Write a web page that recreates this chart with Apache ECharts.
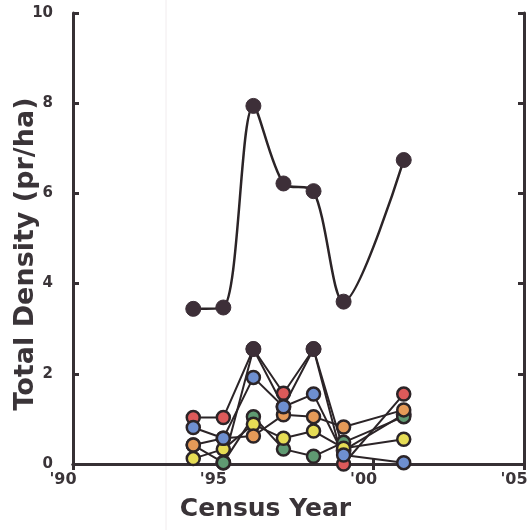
<!DOCTYPE html>
<html>
<head>
<meta charset="utf-8">
<script src="https://cdn.jsdelivr.net/npm/echarts@6/dist/echarts.min.js"></script>
<style>html,body{margin:0;padding:0;background:#fff;}#c{width:532px;height:530px;}</style>
</head>
<body>
<div id="c"></div>
<script>
// Census years
var years = [1994, 1995, 1996, 1997, 1998, 1999, 2001];
// Total density (upper curve)
var total = [3.44, 3.47, 7.94, 6.22, 6.05, 3.6, 6.74];
// Lower black series
var black2 = [null, 0.03, 2.55, 1.27, 2.55, 0.3, 1.1];
// Coloured series
var red = [1.03, 1.03, 2.55, 1.57, 2.55, 0.0, 1.55];
var blue = [0.81, 0.57, 1.92, 1.27, 1.55, 0.2, 0.03];
var orange = [0.42, 0.57, 0.62, 1.09, 1.05, 0.82, 1.2];
var yellow = [0.12, 0.33, 0.88, 0.57, 0.73, 0.35, 0.55];
var green = [0.42, 0.03, 1.05, 0.33, 0.17, 0.48, 1.05];
// Tick labels
var xTicks = [1990, 1995, 2000, 2005];
var yTicks = [0, 2, 4, 6, 8, 10];
var yTitle = 'Total Density (pr/ha)';
var xTitle = 'Census Year';

function pairs(vals) {
  return years.map(function (y, i) { return [y, vals[i]]; }).filter(function (p) { return p[1] !== null; });
}
var lineCol = '#2b2427';
function colSeries(name, vals, fill, z) {
  return {
    name: name, type: 'line', data: pairs(vals),
    symbol: 'circle', symbolSize: 13,
    lineStyle: { color: lineCol, width: 2 },
    itemStyle: { color: fill, borderColor: lineCol, borderWidth: 2.5 },
    z: z
  };
}
var chart = echarts.init(document.getElementById('c'), null, { renderer: 'canvas' });
var axisCol = '#363034';
var txtCol = '#3a3438';
var fontFam = '"DejaVu Sans", Verdana, sans-serif';
chart.setOption({
  animation: false,
  backgroundColor: '#ffffff',
  grid: { left: 73, right: 8, top: 13, bottom: 66, containLabel: false, outerBoundsMode: 'none' },
  graphic: [{
    type: 'line', silent: true, z: 0,
    shape: { x1: 166, y1: 0, x2: 166, y2: 530 },
    style: { stroke: '#f1ecee', lineWidth: 1 }
  }, {
    type: 'text', silent: true, z: 10,
    x: 26, y: 254, rotation: Math.PI / 2,
    style: {
      text: yTitle, fill: txtCol, align: 'center', verticalAlign: 'middle',
      font: 'bold 27px "DejaVu Sans", Verdana, sans-serif'
    }
  }],
  xAxis: [{
    type: 'value', min: 1990, max: 2005, interval: 5, position: 'bottom',
    name: xTitle, nameLocation: 'middle', nameGap: 33,
    nameTextStyle: { fontFamily: fontFam, fontWeight: 'bold', fontSize: 25, color: txtCol, padding: [0, 66, 0, 0] },
    axisLine: { show: true, lineStyle: { color: axisCol, width: 3 } },
    axisTick: { show: true, inside: true, length: 6, lineStyle: { color: axisCol, width: 3 } },
    axisLabel: {
      fontFamily: fontFam, fontWeight: 'bold', fontSize: 16, color: txtCol, margin: 8,
      padding: [0, 20, 0, 0],
      formatter: function (v) { return xTicks.indexOf(v) >= 0 ? "'" + String(v).slice(2) : ''; }
    },
    splitLine: { show: false }
  }, {
    type: 'value', min: 1990, max: 2005, interval: 5, position: 'top',
    axisLine: { show: true, lineStyle: { color: axisCol, width: 3 } },
    axisTick: { show: true, inside: true, length: 6, lineStyle: { color: axisCol, width: 3 } },
    axisLabel: { show: false }, splitLine: { show: false }
  }],
  yAxis: [{
    type: 'value', min: 0, max: 10, interval: 2, position: 'left',
    axisLine: { show: true, lineStyle: { color: axisCol, width: 3 } },
    axisTick: { show: true, inside: true, length: 6, lineStyle: { color: axisCol, width: 3 } },
    axisLabel: {
      fontFamily: fontFam, fontWeight: 'bold', fontSize: 15, color: txtCol, margin: 20,
      formatter: function (v) { return yTicks.indexOf(v) >= 0 ? String(v) : ''; }
    },
    splitLine: { show: false }
  }, {
    type: 'value', min: 0, max: 10, interval: 2, position: 'right',
    axisLine: { show: true, lineStyle: { color: axisCol, width: 3 } },
    axisTick: { show: true, inside: true, length: 6, lineStyle: { color: axisCol, width: 3 } },
    axisLabel: { show: false }, splitLine: { show: false }
  }],
  series: [
    {
      name: 'Total', type: 'line', data: pairs(total), smooth: 0.3,
      symbol: 'circle', symbolSize: 15,
      lineStyle: { color: lineCol, width: 2.5 },
      itemStyle: { color: '#3d2f38', borderColor: '#3d2f38', borderWidth: 1 },
      z: 4
    },
    colSeries('Red', red, '#dc5a5a', 2),
    {
      name: 'Lower total', type: 'line', data: pairs(black2),
      symbol: 'circle', symbolSize: 15,
      lineStyle: { color: lineCol, width: 2 },
      itemStyle: { color: '#3d2f38', borderColor: '#3d2f38', borderWidth: 1 },
      z: 3
    },
    colSeries('Green', green, '#5f9a72', 4),
    colSeries('Yellow', yellow, '#e6dc55', 4),
    colSeries('Orange', orange, '#e59a58', 4),
    colSeries('Blue', blue, '#6e8fd0', 4)
  ]
});
</script>
</body>
</html>
